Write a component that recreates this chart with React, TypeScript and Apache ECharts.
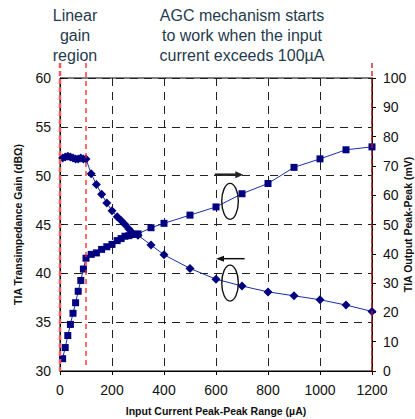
import React, { useEffect, useRef } from "react";
import * as echarts from "echarts";

// Shared x positions (input current, µA)
const currentX = [10, 20, 30, 40, 50, 60, 70, 80, 90, 100, 120, 140, 160, 180, 200, 220, 235, 250, 265, 280, 300, 350, 400, 500, 600, 700, 800, 900, 1000, 1100, 1200];
// TIA transimpedance gain (dBΩ), left axis, diamonds
const gainValues = [51.8, 51.9, 52.0, 51.9, 51.8, 51.7, 51.7, 51.8, 51.7, 51.7, 50.2, 49.1, 48.1, 47.2, 46.4, 45.8, 45.4, 45.0, 44.55, 44.1, 43.9, 42.9, 41.9, 40.5, 39.4, 38.7, 38.1, 37.7, 37.3, 36.75, 36.1];
// TIA output peak-peak (mV), right axis, squares
const outputValues = [4.2, 8.0, 12.1, 15.9, 19.7, 23.3, 27.2, 30.9, 34.8, 38.5, 39.8, 40.3, 41.5, 42.4, 43.2, 44.5, 45.2, 46.0, 46.2, 46.6, 46.8, 48.9, 50.4, 53.2, 56.0, 60.5, 64.0, 69.5, 72.4, 75.5, 76.5];
// Region markers (µA)
const markerX = [0, 100, 1200];

const FONT = "Liberation Sans";
const NOTE = "#1f3b4d";

export default function App() {
  const ref = useRef<HTMLDivElement>(null);
  useEffect(() => {
    document.body.style.margin = "0";
    const chart = echarts.init(ref.current!, null, { renderer: "svg" });
    const gainData = currentX.map((x, i) => [x, gainValues[i]]);
    const outData = currentX.map((x, i) => [x, outputValues[i]]);
    const dash = [8, 6];
    const plain = (v: number) => String(v);
    chart.setOption({
      animation: false,
      backgroundColor: "#fff",
      textStyle: { fontFamily: FONT },
      grid: { left: 60, right: 43, top: 78, bottom: 48, show: true, borderColor: "#000", borderWidth: 1, containLabel: false, outerBoundsMode: "none" },
      xAxis: {
        type: "value",
        min: 0,
        max: 1200,
        interval: 200,
        name: "Input Current Peak-Peak Range (µA)",
        nameLocation: "middle",
        nameGap: 34,
        nameTextStyle: { fontFamily: FONT, fontWeight: "bold", fontSize: 10.5, color: "#111" },
        axisLine: { lineStyle: { color: "#000", width: 1 } },
        axisTick: { show: true, inside: false, length: 4, lineStyle: { color: "#000" } },
        axisLabel: { fontFamily: FONT, fontSize: 14, color: "#111", margin: 12, formatter: plain },
        splitLine: { show: true, lineStyle: { color: "#222", type: dash, width: 1 } },
      },
      yAxis: [
        {
          type: "value",
          min: 30,
          max: 60,
          interval: 5,
          name: "TIA Transimpedance Gain (dBΩ)",
          nameLocation: "middle",
          nameGap: 37,
          nameTextStyle: { fontFamily: FONT, fontWeight: "bold", fontSize: 10.5, color: "#111" },
          axisLine: { show: true, lineStyle: { color: "#000", width: 1 } },
          axisTick: { show: true, inside: true, length: 4, lineStyle: { color: "#000" } },
          axisLabel: { fontFamily: FONT, fontSize: 14, color: "#111", margin: 9, formatter: plain },
          splitLine: { show: true, lineStyle: { color: "#222", type: dash, width: 1 } },
        },
        {
          type: "value",
          min: 0,
          max: 100,
          interval: 10,
          position: "right",
          axisLine: { show: true, lineStyle: { color: "#000", width: 1 } },
          axisTick: { show: true, inside: false, length: 4, lineStyle: { color: "#000" } },
          axisLabel: { fontFamily: FONT, fontSize: 14, color: "#111", margin: 11, formatter: plain },
          splitLine: { show: false },
        },
      ],
      series: [
        {
          type: "line",
          yAxisIndex: 0,
          data: gainData,
          symbol: "diamond",
          symbolSize: 9,
          itemStyle: { color: "#000080" },
          lineStyle: { color: "#1a2fa8", width: 1 },
          z: 5,
        },
        {
          type: "line",
          yAxisIndex: 1,
          data: outData,
          symbol: "rect",
          symbolSize: 7,
          itemStyle: { color: "#000080" },
          lineStyle: { color: "#1a2fa8", width: 1 },
          z: 5,
        },
      ],
    });

    const px = (x: number, y: number, yi: number) =>
      chart.convertToPixel({ xAxisIndex: 0, yAxisIndex: yi }, [x, y]) as number[];
    const bottom = px(0, 30, 0)[1];
    const topY = px(0, 60, 0)[1];
    const redStyles = [
      { stroke: "#f25a5a", lineWidth: 2.5, lineDash: [5, 3] },
      { stroke: "#ff2020", lineWidth: 1.3, lineDash: [5, 4] },
      { stroke: "#d01010", lineWidth: 1.3, lineDash: [5, 3] },
    ];
    const redLines = markerX.map((mx, i) => {
      const x = px(mx, 30, 0)[0];
      return {
        type: "line",
        shape: { x1: x, y1: topY - 15, x2: x, y2: i === 1 ? bottom - 4 : bottom },
        style: redStyles[i],
        z: 10,
      };
    });
    const e1 = px(654, 57.9, 1);
    const e2 = px(654, 39.0, 0);
    const a1 = px(595, 67.0, 1);
    const a1e = px(705, 67.0, 1);
    const a2 = px(710, 41.5, 0);
    const a2e = px(600, 41.5, 0);
    const midY = (topY + bottom) / 2;
    const noteStyle = { fill: NOTE, fontFamily: FONT, fontSize: 16, align: "center", verticalAlign: "middle", lineHeight: 20 };
    chart.setOption({
      graphic: [
        ...redLines,
        { type: "ellipse", shape: { cx: e1[0], cy: e1[1], rx: 8.3, ry: 18 }, style: { fill: "none", stroke: "#111", lineWidth: 1.4 }, z: 20 },
        { type: "ellipse", shape: { cx: e2[0], cy: e2[1], rx: 8.3, ry: 18 }, style: { fill: "none", stroke: "#111", lineWidth: 1.4 }, z: 20 },
        { type: "line", shape: { x1: a1[0], y1: a1[1], x2: a1e[0] - 6, y2: a1e[1] }, style: { stroke: "#222", lineWidth: 2.5 }, z: 20 },
        { type: "polygon", shape: { points: [[a1e[0], a1e[1]], [a1e[0] - 8, a1e[1] - 3.5], [a1e[0] - 8, a1e[1] + 3.5]] }, style: { fill: "#222" }, z: 20 },
        { type: "line", shape: { x1: a2[0], y1: a2[1], x2: a2e[0] + 6, y2: a2e[1] }, style: { stroke: "#111", lineWidth: 1.5 }, z: 20 },
        { type: "polygon", shape: { points: [[a2e[0], a2e[1]], [a2e[0] + 8, a2e[1] - 3], [a2e[0] + 8, a2e[1] + 3]] }, style: { fill: "#111" }, z: 20 },
        { type: "text", x: 75, y: 35, style: { ...noteStyle, text: "Linear\ngain\nregion" }, z: 20 },
        { type: "text", x: 242, y: 35, style: { ...noteStyle, text: "AGC mechanism starts\nto work when the input\ncurrent exceeds 100µA" }, z: 20 },
        {
          type: "text",
          x: 407.5,
          y: midY,
          rotation: Math.PI / 2,
          style: { text: "TIA Output Peak-Peak (mV)", fill: "#111", fontFamily: FONT, fontWeight: "bold", fontSize: 10.5, align: "center", verticalAlign: "middle" },
          z: 20,
        },
      ],
    });
    return () => chart.dispose();
  }, []);
  return <div ref={ref} style={{ position: "absolute", left: 0, top: 0, width: 415, height: 419 }} />;
}
